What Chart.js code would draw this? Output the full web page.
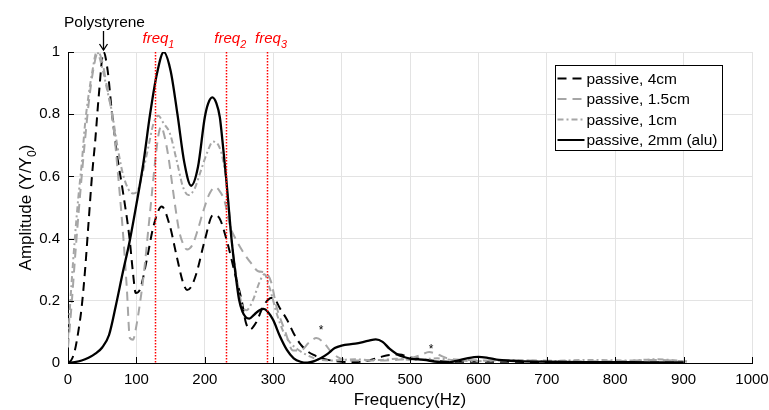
<!DOCTYPE html>
<html>
<head>
<meta charset="utf-8">
<title>Amplitude vs frequency</title>
<script src="https://cdn.jsdelivr.net/npm/chart.js@4.4.1/dist/chart.umd.min.js"></script>
<style>
  html, body { margin: 0; padding: 0; background: #fff; }
  #wrap { width: 769px; height: 410px; }
</style>
</head>
<body>
<div id="wrap"><canvas id="ampChart" width="769" height="410"></canvas></div>
<script>
// passive, 4cm
const freq4cm = [0,5,10,15,20,25,30,35,40,45,52,58,64,72,80,90,95,99,105,115,125,137,149,159,168,174,180,188,200,212,220,232,244,254,260,266,275,285,295,300,310,320,330,340,350,360,370,380,400,420,440,455,470,485,500,520,540,570,620,700,800,900];
const amp4cm = [0,0.01,0.04,0.1,0.18,0.3,0.45,0.6,0.72,0.86,1.0,0.94,0.81,0.665,0.555,0.4,0.29,0.225,0.235,0.33,0.44,0.503,0.44,0.342,0.26,0.235,0.245,0.29,0.395,0.476,0.47,0.395,0.288,0.2,0.13,0.108,0.13,0.18,0.208,0.21,0.175,0.14,0.095,0.06,0.038,0.025,0.015,0.01,0.004,0.003,0.008,0.018,0.026,0.027,0.018,0.012,0.006,0.004,0.004,0.003,0.002,0.002];

// passive, 1.5cm
const freq15cm = [0,5,10,15,20,25,30,36,44,50,56,66,73,81,86,90.5,95,100,107,112,117,122,127,132,136,141,147,152,157,162,167,174,182,190,198,207,215,221,229,237,246,258,268,278,289,297,305,317,329,340,352,363,374,385,398,420,450,480,500,515,528,540,555,580,620,680,740,800,860,910];
const amp15cm = [0.05,0.18,0.33,0.47,0.6,0.72,0.83,0.93,1.0,0.97,0.9,0.77,0.61,0.4,0.24,0.08,0.075,0.12,0.22,0.31,0.42,0.53,0.64,0.73,0.76,0.73,0.66,0.58,0.5,0.43,0.39,0.365,0.38,0.43,0.49,0.545,0.565,0.555,0.52,0.44,0.395,0.35,0.32,0.295,0.29,0.26,0.18,0.105,0.04,0.04,0.065,0.08,0.065,0.035,0.015,0.008,0.008,0.01,0.015,0.025,0.035,0.028,0.015,0.01,0.008,0.008,0.006,0.006,0.01,0.004];

// passive, 1cm
const freq1cm = [0,5,10,15,20,25,30,35,42,50,57,64,72,80,88,95,102,110,118,125,132,140,149,159,168,176,185,193,203,212,220,226,231,235,240,247,254,261,270,280,287,295,305,315,325,335,350,365,380,400,420,440,460,480,500,520,540,560,600,650,700,760,820,860,905];
const amp1cm = [0.08,0.25,0.4,0.53,0.64,0.77,0.86,0.93,1.0,0.95,0.88,0.81,0.7,0.61,0.56,0.545,0.555,0.62,0.7,0.77,0.795,0.77,0.738,0.65,0.567,0.54,0.56,0.61,0.674,0.712,0.7,0.66,0.59,0.5,0.38,0.27,0.19,0.17,0.2,0.26,0.285,0.24,0.16,0.1,0.065,0.045,0.025,0.012,0.008,0.01,0.012,0.01,0.01,0.014,0.01,0.012,0.015,0.01,0.006,0.01,0.006,0.01,0.008,0.012,0.005];

// passive, 2mm (alu)
const freq2mm = [0,10,20,30,40,50,60,70,80,90,100,110,120,130,140,150,160,170,180,190,200,205,211,217,222,226,231,235,239,245,250,255,260,265,272,280,286,292,300,310,320,330,340,350,360,370,380,390,400,420,440,450,460,470,480,490,500,520,540,555,570,585,600,615,630,660,700,750,800,850,900];
const amp2mm = [0,0.003,0.008,0.017,0.03,0.05,0.09,0.185,0.29,0.39,0.51,0.64,0.8,0.93,1.0,0.94,0.8,0.645,0.57,0.63,0.79,0.835,0.854,0.835,0.79,0.71,0.6,0.5,0.4,0.285,0.205,0.165,0.147,0.143,0.155,0.17,0.174,0.165,0.138,0.085,0.042,0.015,0.004,0.001,0.006,0.016,0.03,0.048,0.056,0.062,0.072,0.076,0.068,0.046,0.03,0.02,0.014,0.01,0.004,0.002,0.008,0.016,0.02,0.016,0.01,0.006,0.004,0.003,0.003,0.002,0.002];

const seriesNames = ['passive, 4cm', 'passive, 1.5cm', 'passive, 1cm', 'passive, 2mm (alu)'];

// resonance markers and peak stars
const resonanceFreqs = [126.5, 231.5, 291];
const resonanceSubs = ['1', '2', '3'];
const starFreqs = [370, 531];
const starAmps = [0.1, 0.04];
const polystyreneFreq = 51;

const FONT = "'Liberation Sans', Arial, Helvetica, sans-serif";
const GRAY = '#a6a6a6';

function toPoints(fs, as) {
    return fs.map((f, i) => ({ x: f, y: as[i] }));
}

const datasets = [
    { label: seriesNames[0], data: toPoints(freq4cm, amp4cm), borderColor: '#000', borderDash: [9, 6], order: 4 },
    { label: seriesNames[1], data: toPoints(freq15cm, amp15cm), borderColor: GRAY, borderDash: [9, 6], order: 3 },
    { label: seriesNames[2], data: toPoints(freq1cm, amp1cm), borderColor: GRAY, borderDash: [6, 3, 2, 3], order: 2 },
    { label: seriesNames[3], data: toPoints(freq2mm, amp2mm), borderColor: '#000', borderDash: [], borderWidth: 2.3, order: 1 }
];

function line(ctx, x1, y1, x2, y2) {
    ctx.beginPath();
    ctx.moveTo(x1, y1);
    ctx.lineTo(x2, y2);
    ctx.stroke();
}

// text with a subscript part, returns total width
function subText(ctx, parts, x, y, size, draw) {
    let w = 0;
    parts.forEach(p => {
        ctx.font = (p.italic ? 'italic ' : '') + (p.sub ? size * 0.72 : size) + 'px ' + FONT;
        if (draw) ctx.fillText(p.t, x + w, y + (p.sub ? size * 0.3 : 0));
        w += ctx.measureText(p.t).width;
    });
    return w;
}

const annotations = {
    id: 'annotations',
    afterDatasetsDraw(chart) {
        const { ctx, chartArea: a, scales: { x, y } } = chart;
        ctx.save();

        // red dotted lines at the driving frequencies
        ctx.strokeStyle = '#ff0000';
        ctx.lineWidth = 1.5;
        ctx.setLineDash([1.5, 1.5]);
        resonanceFreqs.forEach(f => {
            const px = Math.round(x.getPixelForValue(f)) + 0.5;
            line(ctx, px, a.top, px, a.bottom);
        });
        ctx.setLineDash([]);

        // inward ticks
        ctx.strokeStyle = '#000';
        ctx.lineWidth = 1;
        x.ticks.forEach(t => {
            const px = Math.round(x.getPixelForValue(t.value)) + 0.5;
            line(ctx, px, a.bottom, px, a.bottom - 6);
        });
        y.ticks.forEach(t => {
            const py = Math.round(y.getPixelForValue(t.value)) + 0.5;
            line(ctx, a.left, py, a.left + 6, py);
        });

        // freq labels
        ctx.fillStyle = '#ff0000';
        ctx.textBaseline = 'alphabetic';
        ctx.textAlign = 'left';
        resonanceFreqs.forEach((f, i) => {
            const px = x.getPixelForValue(f);
            subText(ctx, [{ t: 'freq', italic: true }, { t: resonanceSubs[i], italic: true, sub: true }], px - 12, a.top - 9, 15, true);
        });

        // Polystyrene label and arrow
        ctx.fillStyle = '#000';
        ctx.strokeStyle = '#000';
        ctx.textAlign = 'center';
        ctx.font = '15.5px ' + FONT;
        const ax = Math.round(x.getPixelForValue(polystyreneFreq)) + 0.5;
        ctx.fillText('Polystyrene', ax + 1, a.top - 25);
        ctx.lineWidth = 1.3;
        line(ctx, ax, a.top - 21, ax, a.top - 2);
        ctx.beginPath();
        ctx.moveTo(ax - 4, a.top - 8);
        ctx.lineTo(ax, a.top - 2);
        ctx.lineTo(ax + 4, a.top - 8);
        ctx.stroke();

        // peak stars
        ctx.font = '12px ' + FONT;
        starFreqs.forEach((f, i) => {
            ctx.fillText('*', x.getPixelForValue(f), y.getPixelForValue(starAmps[i]) + 2);
        });

        ctx.restore();
    },
    afterDraw(chart) {
        const { ctx, chartArea: a } = chart;
        ctx.save();
        ctx.fillStyle = '#000';
        ctx.textBaseline = 'alphabetic';

        // x title
        ctx.textAlign = 'center';
        ctx.font = '17px ' + FONT;
        ctx.fillText('Frequency(Hz)', (a.left + a.right) / 2, 405);

        // y title, rotated
        ctx.textAlign = 'left';
        const parts = [{ t: 'Amplitude (Y/Y' }, { t: '0', sub: true }, { t: ')' }];
        ctx.translate(31, (a.top + a.bottom) / 2);
        ctx.rotate(-Math.PI / 2);
        const w = subText(ctx, parts, 0, 0, 17, false);
        subText(ctx, parts, -w / 2, 0, 17, true);
        ctx.setTransform(1, 0, 0, 1, 0, 0);

        // legend box
        const bx = a.right - 196.5, by = a.top + 13.5, bw = 167, bh = 85;
        ctx.fillStyle = '#fff';
        ctx.fillRect(bx, by, bw, bh);
        ctx.strokeStyle = '#000';
        ctx.lineWidth = 1;
        ctx.strokeRect(bx, by, bw, bh);
        ctx.font = '15.5px ' + FONT;
        ctx.textBaseline = 'middle';
        chart.data.datasets.forEach((ds, i) => {
            const ry = by + 13 + i * 20.5;
            ctx.strokeStyle = ds.borderColor;
            ctx.lineWidth = 2;
            ctx.setLineDash(ds.borderDash);
            line(ctx, bx + 2, ry, bx + 29, ry);
            ctx.setLineDash([]);
            ctx.fillStyle = '#000';
            ctx.fillText(ds.label, bx + 31, ry + 1);
        });
        ctx.restore();
    }
};

new Chart(document.getElementById('ampChart'), {
    type: 'line',
    data: { datasets: datasets },
    options: {
        responsive: false,
        animation: false,
        layout: { padding: { left: 0, top: 52, right: 17, bottom: 0 } },
        plugins: { legend: { display: false }, tooltip: { enabled: false } },
        elements: {
            point: { radius: 0 },
            line: { borderWidth: 2, cubicInterpolationMode: 'monotone', fill: false }
        },
        scales: {
            x: {
                type: 'linear',
                min: 0,
                max: 1000,
                ticks: { stepSize: 100, padding: 8, color: '#000', font: { family: FONT, size: 15 }, maxRotation: 0, callback: v => String(v) },
                grid: { color: '#e3e3e3', drawTicks: false },
                border: { color: '#000', width: 1 },
                afterFit(s) { s.height = 47; s.paddingLeft = 0; s.paddingRight = 0; }
            },
            y: {
                min: 0,
                max: 1,
                ticks: { stepSize: 0.2, padding: 8, color: '#000', font: { family: FONT, size: 15 }, callback: v => String(+v.toFixed(1)) },
                grid: { color: '#e3e3e3', drawTicks: false },
                border: { color: '#000', width: 1 },
                afterFit(s) { s.width = 68; s.paddingTop = 0; s.paddingBottom = 0; }
            }
        }
    },
    plugins: [annotations]
});
</script>
</body>
</html>
